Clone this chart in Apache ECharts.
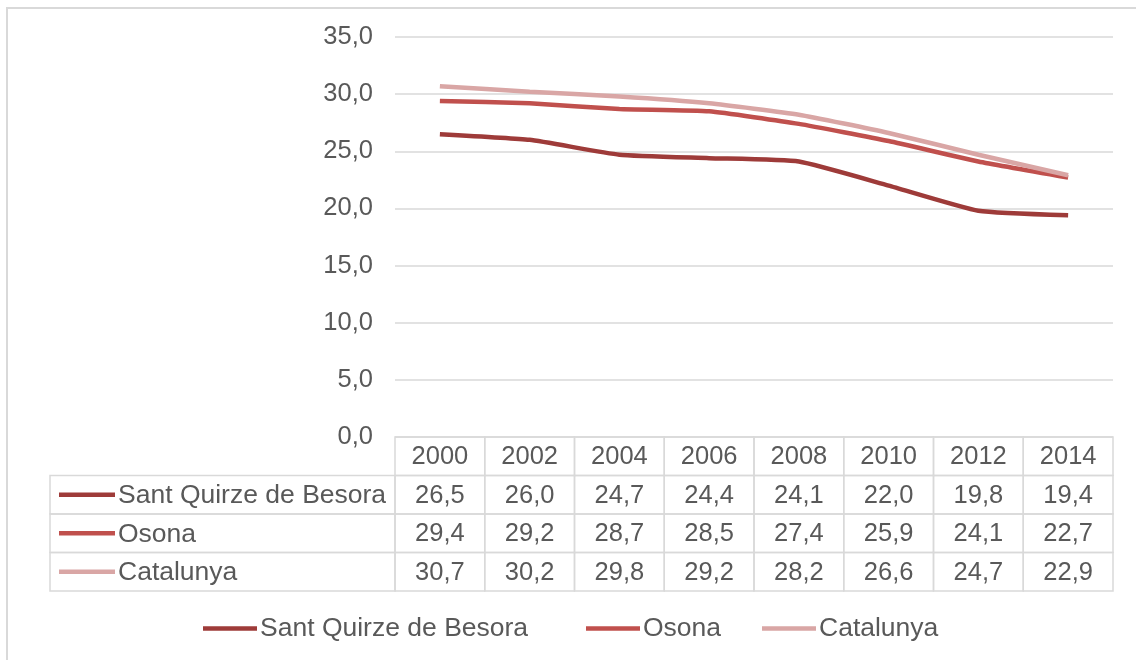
<!DOCTYPE html>
<html>
<head>
<meta charset="utf-8">
<script src="https://cdn.jsdelivr.net/npm/echarts@6/dist/echarts.min.js"></script>
<style>
html,body{margin:0;padding:0;background:#fff;}
#chart{width:1136px;height:660px;}
</style>
</head>
<body>
<div id="chart"></div>
<script>
const years = ['2000','2002','2004','2006','2008','2010','2012','2014'];
const seriesNames = ['Sant Quirze de Besora','Osona','Catalunya'];
const santQuirze = [26.5, 26.0, 24.7, 24.4, 24.1, 22.0, 19.8, 19.4];
const osona = [29.4, 29.2, 28.7, 28.5, 27.4, 25.9, 24.1, 22.7];
const catalunya = [30.7, 30.2, 29.8, 29.2, 28.2, 26.6, 24.7, 22.9];
const yTicks = [0, 5, 10, 15, 20, 25, 30, 35];

const seriesValues = [santQuirze, osona, catalunya];
const colors = ['#9E3B39', '#C0504D', '#D9A6A5'];
const FONT = '"Liberation Sans", Arial, sans-serif';
const TXT = '#595959';
const GRIDC = '#D9D9D9';
const fmt = v => v.toFixed(1).replace('.', ',');

// table cells: row 0 = header (years), rows 1..3 = series
const tableData = [];
for (let r = 0; r <= seriesNames.length; r++) {
  for (let c = 0; c < years.length; c++) tableData.push([c, r]);
}

const chart = echarts.init(document.getElementById('chart'), null, {renderer: 'canvas'});

function renderCell(params, api) {
  const c = api.value(0), r = api.value(1);
  const pt = api.coord([c, r]);
  const sz = api.size([1, 1]);
  const x0 = pt[0] - sz[0] / 2, y0 = pt[1] - sz[1] / 2;
  const text = r === 0 ? years[c] : fmt(seriesValues[r - 1][c]);
  const children = [
    {type: 'rect', shape: {x: x0, y: y0, width: sz[0], height: sz[1]},
     style: {fill: 'rgba(0,0,0,0)', stroke: GRIDC, lineWidth: 1.5}},
    {type: 'text', style: {text: text, x: pt[0], y: pt[1] + 1, align: 'center', verticalAlign: 'middle',
     font: '25.5px ' + FONT, fill: TXT}}
  ];
  if (c === 0 && r > 0) {
    const nameW = 345;
    children.push(
      {type: 'rect', shape: {x: x0 - nameW, y: y0, width: nameW, height: sz[1]},
       style: {fill: 'rgba(0,0,0,0)', stroke: GRIDC, lineWidth: 1.5}},
      {type: 'line', shape: {x1: x0 - nameW + 9, y1: pt[1], x2: x0 - nameW + 65, y2: pt[1]},
       style: {stroke: colors[r - 1], lineWidth: 4.5}},
      {type: 'text', style: {text: seriesNames[r - 1], x: x0 - nameW + 68, y: pt[1] + 1, align: 'left',
       verticalAlign: 'middle', font: '26.5px ' + FONT, fill: TXT}}
    );
  }
  return {type: 'group', children: children};
}

const lineSeries = seriesNames.map((n, i) => ({
  name: n, type: 'line', xAxisIndex: 0, yAxisIndex: 0,
  data: seriesValues[i], symbol: 'none', smooth: 0.15,
  lineStyle: {color: colors[i], width: 4.5}, itemStyle: {color: colors[i]},
  z: 3 + i
}));

const legendBase = {
  icon: 'rect', itemWidth: 54, itemHeight: 4.5, top: 610,
  textStyle: {fontSize: 26.5, color: TXT, fontFamily: FONT, padding: [0, 0, 0, -2]},
  selectedMode: false
};

chart.setOption({
  animation: false,
  backgroundColor: '#fff',
  graphic: [{
    type: 'rect', shape: {x: 7, y: 8, width: 1140, height: 670},
    style: {fill: 'none', stroke: GRIDC, lineWidth: 2}, silent: true, z: -1
  }],
  legend: [
    Object.assign({}, legendBase, {left: 198, data: [seriesNames[0]]}),
    Object.assign({}, legendBase, {left: 581, data: [seriesNames[1]]}),
    Object.assign({}, legendBase, {left: 757, data: [seriesNames[2]]})
  ],
  grid: [
    {left: 395, right: 23, top: 37, height: 400},
    {left: 395, right: 23, top: 437, height: 154}
  ],
  xAxis: [
    {type: 'category', gridIndex: 0, data: years, boundaryGap: true,
     axisLine: {show: false}, axisTick: {show: false}, axisLabel: {show: false}, splitLine: {show: false}},
    {type: 'category', gridIndex: 1, data: years, boundaryGap: true, show: false}
  ],
  yAxis: [
    {type: 'value', gridIndex: 0, min: yTicks[0], max: yTicks[yTicks.length - 1], interval: 5,
     axisLine: {show: false}, axisTick: {show: false},
     axisLabel: {formatter: v => fmt(v), fontSize: 25.5, color: TXT, fontFamily: FONT, margin: 22},
     splitLine: {lineStyle: {color: GRIDC, width: 1.5}}},
    {type: 'category', gridIndex: 1, data: ['', ...seriesNames], inverse: true, show: false}
  ],
  series: [
    ...lineSeries,
    {type: 'custom', xAxisIndex: 1, yAxisIndex: 1, data: tableData, renderItem: renderCell,
     silent: true, z: 2}
  ]
});
</script>
</body>
</html>
